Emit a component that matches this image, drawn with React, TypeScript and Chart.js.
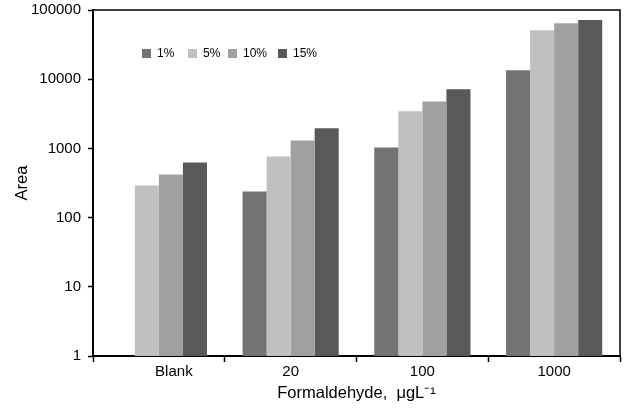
import React, { useEffect, useRef } from "react";
import { Chart, registerables } from "chart.js";

Chart.register(...registerables);

const categories = ["Blank", "20", "100", "1000"];
const seriesLabels = ["1%", "5%", "10%", "15%"];
const series1 = [null, 238, 1030, 13500];
const series5 = [291, 766, 3430, 51000];
const series10 = [420, 1300, 4780, 64500];
const series15 = [627, 1950, 7150, 71500];
const seriesColors = ["#737373", "#c0c0c0", "#a0a0a0", "#595959"];
const yTicks = [1, 10, 100, 1000, 10000, 100000];

const FONT = "'Liberation Sans', Arial, sans-serif";

const framePlugin = {
  id: "frame",
  afterDraw(chart: any) {
    const { ctx, chartArea } = chart;
    ctx.save();
    ctx.strokeStyle = "#000";
    ctx.lineWidth = 1.5;
    ctx.beginPath();
    ctx.moveTo(chartArea.left, chartArea.top);
    ctx.lineTo(chartArea.right, chartArea.top);
    ctx.lineTo(chartArea.right, chartArea.bottom);
    ctx.stroke();
    // legend
    const xs = [142, 188, 228, 278];
    const y = 49;
    ctx.font = `12px ${FONT}`;
    ctx.textBaseline = "middle";
    ctx.textAlign = "left";
    chart.data.datasets.forEach((ds: any, i: number) => {
      ctx.fillStyle = ds.backgroundColor;
      ctx.fillRect(xs[i], y, 9, 9);
      ctx.fillStyle = "#000";
      ctx.fillText(ds.label, xs[i] + 15, y + 4.5);
    });
    ctx.restore();
  },
};

export default function App() {
  const ref = useRef<HTMLCanvasElement>(null);
  useEffect(() => {
    document.body.style.margin = "0";
    const data = [series1, series5, series10, series15];
    const chart = new Chart(ref.current!, {
      type: "bar",
      data: {
        labels: categories,
        datasets: seriesLabels.map((l, i) => ({
          label: l,
          data: data[i] as any,
          backgroundColor: seriesColors[i],
          borderWidth: 0,
          categoryPercentage: 0.73,
          barPercentage: 1,
        })),
      },
      options: {
        animation: false,
        responsive: false,
        layout: { padding: { left: 0, top: 10, right: 6, bottom: 0 } },
        plugins: { legend: { display: false }, tooltip: { enabled: false } },
        scales: {
          x: {
            grid: {
              display: true,
              drawOnChartArea: false,
              drawTicks: true,
              tickLength: 6,
              tickWidth: 1.5,
              tickColor: "#000",
              offset: true,
            },
            border: { display: true, color: "#000", width: 2 },
            ticks: {
              color: "#000",
              font: { family: FONT, size: 15 },
              padding: 1,
              callback: (_v: any, i: number) =>
                i === 0 ? "\u2003\u2003" + categories[i] : categories[i],
            },
            title: {
              display: true,
              text: "Formaldehyde,  μgL⁻¹",
              color: "#000",
              font: { family: FONT, size: 16.5 },
              padding: { top: 0, bottom: 12 },
            },
            afterFit(scale: any) {
              scale.height = 59;
              scale.paddingLeft = 0;
              scale.paddingRight = 0;
            },
          },
          y: {
            type: "logarithmic",
            min: 1,
            max: 100000,
            afterBuildTicks(scale: any) {
              scale.ticks = yTicks.map((v) => ({ value: v }));
            },
            grid: {
              display: true,
              drawOnChartArea: false,
              drawTicks: true,
              tickLength: 5,
              tickWidth: 1.5,
              tickColor: "#000",
            },
            border: { display: true, color: "#000", width: 2 },
            ticks: {
              color: "#000",
              font: { family: FONT, size: 15 },
              padding: 7,
              callback: (v: any) => String(v),
            },
            title: {
              display: true,
              text: "Area",
              color: "#000",
              font: { family: FONT, size: 16.5 },
              padding: { top: 13, bottom: 0 },
            },
            afterFit(scale: any) {
              scale.width = 93;
              scale.paddingTop = 0;
              scale.paddingBottom = 0;
            },
          },
        },
      },
      plugins: [framePlugin],
    });
    return () => chart.destroy();
  }, []);
  return (
    <div style={{ width: 626, height: 415 }}>
      <canvas ref={ref} width={626} height={415} style={{ display: "block" }} />
    </div>
  );
}
